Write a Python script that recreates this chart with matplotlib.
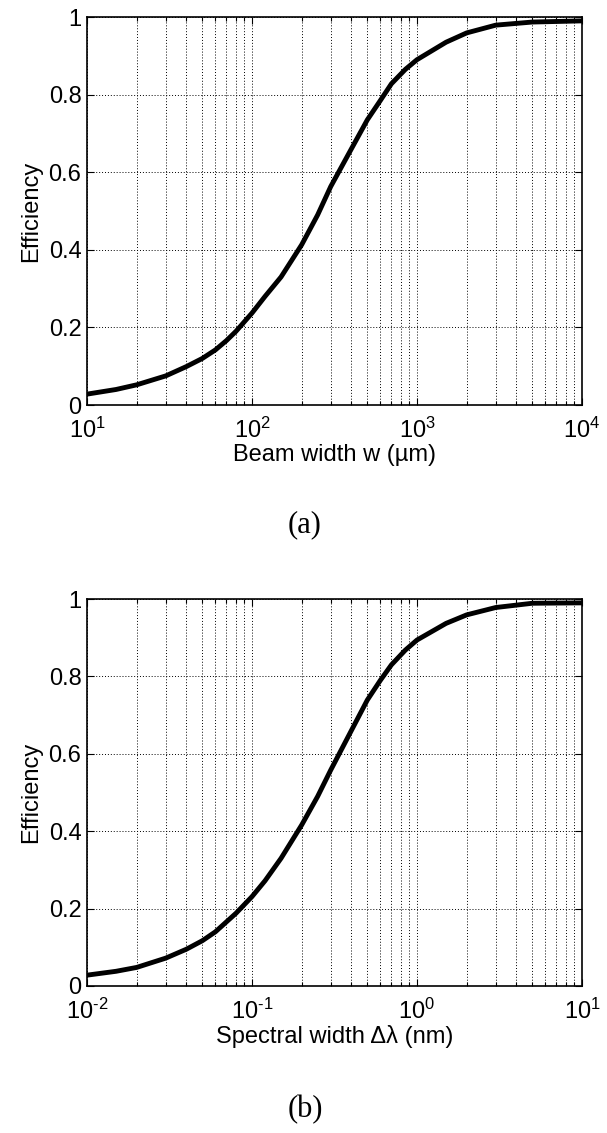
import matplotlib
matplotlib.use("Agg")
import math
import matplotlib.pyplot as plt
from matplotlib.ticker import LogLocator, NullFormatter, FuncFormatter

plt.rcParams['font.family'] = ['Liberation Sans', 'DejaVu Sans']
plt.rcParams['mathtext.fontset'] = 'custom'
plt.rcParams['mathtext.rm'] = 'Liberation Sans'
plt.rcParams['mathtext.it'] = 'Liberation Sans:italic'

# (a) Efficiency vs beam width
beam_width_um = [10, 15, 20, 30, 40, 50, 60, 70, 80, 100, 120, 150, 200, 250,
                 300, 400, 500, 600, 700, 850, 1000, 1500, 2000, 3000, 5000, 10000]
efficiency_a = [0.028, 0.04, 0.052, 0.075, 0.099, 0.12, 0.142, 0.166, 0.19,
                0.237, 0.28, 0.33, 0.413, 0.49, 0.563, 0.66, 0.735, 0.785,
                0.828, 0.865, 0.89, 0.935, 0.959, 0.979, 0.987, 0.99]

# (b) Efficiency vs spectral width
spectral_width_nm = [0.01, 0.015, 0.02, 0.03, 0.04, 0.05, 0.06, 0.08, 0.1,
                     0.12, 0.15, 0.2, 0.25, 0.3, 0.4, 0.5, 0.6, 0.7, 0.85, 1,
                     1.5, 2, 3, 5, 10]
efficiency_b = [0.028, 0.038, 0.048, 0.072, 0.095, 0.117, 0.14, 0.188, 0.231,
                0.272, 0.33, 0.416, 0.49, 0.558, 0.66, 0.739, 0.79, 0.83,
                0.868, 0.894, 0.937, 0.959, 0.978, 0.989, 0.99]

y_ticks = [0, 0.2, 0.4, 0.6, 0.8, 1]
y_tick_labels = ['0', '0.2', '0.4', '0.6', '0.8', '1']

W, H = 607, 1133
fig = plt.figure(figsize=(W / 100, H / 100), dpi=100)


def make_axes(top_px, bottom_px):
    left, right = 87, 582
    return fig.add_axes([left / W, 1 - bottom_px / H, (right - left) / W,
                         (bottom_px - top_px) / H])


def pow_label(v, pos):
    e = int(round(math.log10(v)))
    return r'$\mathregular{10^{\text{%d}}}$' % e


def style(ax, xlim, xlabel):
    ax.set_xscale('log')
    ax.set_xlim(*xlim)
    ax.set_ylim(0, 1)
    ax.set_yticks(y_ticks)
    ax.set_yticklabels(y_tick_labels)
    ax.xaxis.set_major_locator(LogLocator(base=10, numticks=10))
    ax.xaxis.set_major_formatter(FuncFormatter(pow_label))
    ax.xaxis.set_minor_locator(LogLocator(base=10, subs=range(2, 10), numticks=10))
    ax.xaxis.set_minor_formatter(NullFormatter())
    ax.grid(True, which='major', axis='both', color='black', linestyle=(0, (1, 2)), linewidth=0.7)
    ax.grid(True, which='minor', axis='x', color='black', linestyle=(0, (1, 2)), linewidth=0.7)
    ax.tick_params(which='both', direction='in', top=True, right=True,
                   labelsize=17, width=0.8)
    ax.tick_params(which='major', length=5)
    ax.tick_params(axis='x', which='major', pad=9)
    ax.tick_params(axis='y', which='major', pad=4)
    ax.tick_params(which='minor', length=3)
    for s in ax.spines.values():
        s.set_linewidth(1.2)
        s.set_color('black')
    ax.set_xlabel(xlabel, fontsize=17, labelpad=1)
    ax.set_ylabel('Efficiency', fontsize=17, labelpad=5)


ax1 = make_axes(17, 405)
ax1.plot(beam_width_um, efficiency_a, color='black', linewidth=3.5,
         solid_capstyle='round', solid_joinstyle='round')
style(ax1, (10, 1e4), 'Beam width w (\u00b5m)')

ax2 = make_axes(599, 986)
ax2.plot(spectral_width_nm, efficiency_b, color='black', linewidth=3.5,
         solid_capstyle='round', solid_joinstyle='round')
style(ax2, (0.01, 10), 'Spectral width \u0394\u03bb (nm)')

fig.text(305 / W, 1 - 525 / H, '(a)', ha='center', va='center',
         fontsize=22, family='Liberation Serif')
fig.text(305 / W, 1 - 1110 / H, '(b)', ha='center', va='center',
         fontsize=22, family='Liberation Serif')

fig.savefig('out.png', dpi=100, facecolor='white')
